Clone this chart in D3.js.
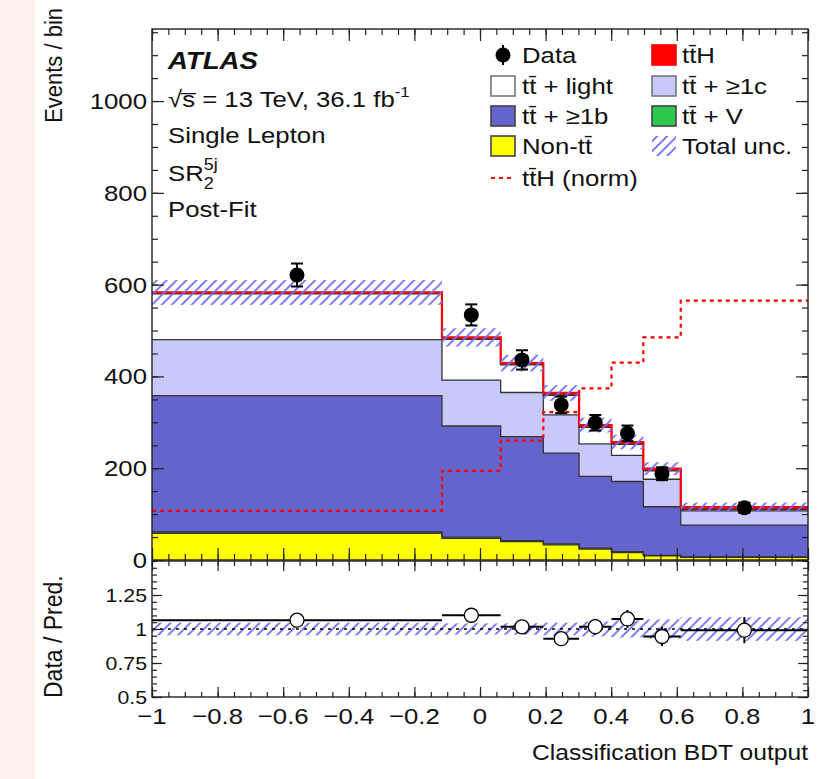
<!DOCTYPE html>
<html>
<head>
<meta charset="utf-8">
<script src="https://cdn.jsdelivr.net/npm/d3@7"></script>
<style>
  html, body { margin: 0; padding: 0; background: #ffffff; }
  #strip { position: absolute; left: 0; top: 0; width: 35px; height: 779px; background: #fdf1ee; }
  svg { position: absolute; left: 0; top: 0; }
  text { font-family: "Liberation Sans", Arial, Helvetica, sans-serif; fill: #111; }
</style>
</head>
<body>
<div id="strip"></div>
<svg id="chart" width="820" height="779"></svg>
<script>
// ---- Binned BDT distribution, post-fit, single lepton SR2 (5j) ----
const binEdges = [-1, -0.116, 0.063, 0.193, 0.302, 0.401, 0.498, 0.612, 1];

// stacked backgrounds / signal (events per bin), bottom to top
const nonTT   = [58, 47, 40, 33, 24, 16, 9, 6];
const ttV     = [3, 3, 2, 2, 2, 2, 1, 1];
const ttB     = [297, 242, 227, 198, 156, 153, 106, 69];
const ttC     = [122, 100, 96, 83, 71, 57, 60, 31];
const ttLight = [100, 89, 60, 43, 36, 24, 18, 3];
const ttH     = [3, 4, 4, 5, 5, 5, 5, 5];

// total uncertainty on the prediction (absolute, events)
const totalUnc = [27, 20, 18, 17, 16, 16, 14, 10];

// ttH shape normalised to total background
const ttHnorm = [107, 194, 260, 322, 374, 430, 485, 565];

// observed data
const dataCounts = [621, 534, 436, 338, 299, 276, 188, 114];
const dataErr    = [25, 23, 21, 18, 17, 17, 14, 11];

// axis tick values
const xTicks      = [-1, -0.8, -0.6, -0.4, -0.2, 0, 0.2, 0.4, 0.6, 0.8, 1];
const xTickLabels = ["\u22121", "\u22120.8", "\u22120.6", "\u22120.4", "\u22120.2", "0", "0.2", "0.4", "0.6", "0.8", "1"];
const yTicks      = [0, 200, 400, 600, 800, 1000];
const rTicks      = [0.5, 0.75, 1, 1.25];
const rTickLabels = ["0.5", "0.75", "1", "1.25"];

const TT = "tt\u0304";
const layerKeys   = ["nonTT", "ttV", "ttB", "ttC", "ttLight", "ttH"];
const layerColors = { nonTT: "#ffff00", ttV: "#2ec84f", ttB: "#6464cc", ttC: "#c8c8fa", ttLight: "#ffffff", ttH: "#ff0000" };

// ---- geometry ----
const L = 152, R = 808, mainTop = 29, ratTop = 561, ratBot = 697;
const SX = 1.12; // horizontal text stretch

const svg = d3.select("#chart");
const x  = d3.scaleLinear().domain([-1, 1]).range([L, R]);
const y  = d3.scaleLinear().domain([0, 1157]).range([560, mainTop]);
const yr = d3.scaleLinear().domain([0.5, 1.5]).range([ratBot, ratTop]);

// hatch pattern for uncertainty bands
const defs = svg.append("defs");
const pat = defs.append("pattern").attr("id", "hatch").attr("patternUnits", "userSpaceOnUse")
  .attr("width", 7).attr("height", 7).attr("patternTransform", "rotate(45)");
pat.append("line").attr("x1", 1).attr("y1", 0).attr("x2", 1).attr("y2", 7)
  .attr("stroke", "#6f6ff5").attr("stroke-opacity", 0.9).attr("stroke-width", 2);

defs.append("clipPath").attr("id", "clipMain").append("rect")
  .attr("x", L).attr("y", mainTop).attr("width", R - L).attr("height", 560 - mainTop);
defs.append("clipPath").attr("id", "clipRat").append("rect")
  .attr("x", L).attr("y", ratTop).attr("width", R - L).attr("height", ratBot - ratTop);

function addText(g, px, py, str, opt = {}) {
  const t = g.append("text")
    .attr("transform", `translate(${px},${py}) scale(${opt.sx || SX},1)`)
    .attr("font-size", opt.size || 23)
    .attr("text-anchor", opt.anchor || "start");
  if (opt.weight) t.attr("font-weight", opt.weight);
  if (opt.style) t.attr("font-style", opt.style);
  t.text(str);
  return t;
}

// ---- stacked histogram ----
const table = binEdges.slice(0, -1).map((e, i) => ({
  lo: e, hi: binEdges[i + 1],
  nonTT: nonTT[i], ttV: ttV[i], ttB: ttB[i], ttC: ttC[i], ttLight: ttLight[i], ttH: ttH[i]
}));
const stacked = d3.stack().keys(layerKeys)(table);

const stepArea = d3.area().x(d => d.x).y0(d => d.y0).y1(d => d.y1);
const stepLine = d3.line().x(d => d.x).y(d => d.y);

function stepPoints(layer) {
  const pts = [];
  layer.forEach(s => {
    pts.push({ x: x(s.data.lo), y0: y(s[0]), y1: y(s[1]) });
    pts.push({ x: x(s.data.hi), y0: y(s[0]), y1: y(s[1]) });
  });
  return pts;
}

const gMain = svg.append("g").attr("clip-path", "url(#clipMain)");

stacked.forEach(layer => {
  gMain.append("path").attr("d", stepArea(stepPoints(layer))).attr("fill", layerColors[layer.key]);
});
// outline along the top of each layer
stacked.forEach(layer => {
  const pts = stepPoints(layer).map(p => ({ x: p.x, y: p.y1 }));
  const isTop = layer.key === "ttH";
  gMain.append("path").attr("d", stepLine(pts)).attr("fill", "none")
    .attr("stroke", isTop ? "#ff0000" : "#333")
    .attr("stroke-width", isTop ? 2.2 : 1.3);
});

// total uncertainty hatch
const totals = table.map((d, i) => nonTT[i] + ttV[i] + ttB[i] + ttC[i] + ttLight[i] + ttH[i]);
table.forEach((d, i) => {
  gMain.append("rect").attr("x", x(d.lo)).attr("width", x(d.hi) - x(d.lo))
    .attr("y", y(totals[i] + totalUnc[i]))
    .attr("height", y(totals[i] - totalUnc[i]) - y(totals[i] + totalUnc[i]))
    .attr("fill", "url(#hatch)");
});

// ttH normalised (dashed red step)
const normPts = [];
table.forEach((d, i) => {
  normPts.push({ x: x(d.lo), y: y(ttHnorm[i]) });
  normPts.push({ x: x(d.hi), y: y(ttHnorm[i]) });
});
gMain.append("path").attr("d", stepLine(normPts)).attr("fill", "none")
  .attr("stroke", "#ff0000").attr("stroke-width", 2.2).attr("stroke-dasharray", "4,4");

// data points
const centers = table.map(d => (d.lo + d.hi) / 2);
const gData = svg.append("g");
centers.forEach((c, i) => {
  const cx = x(c);
  gData.append("line").attr("x1", cx).attr("x2", cx)
    .attr("y1", y(dataCounts[i] - dataErr[i])).attr("y2", y(dataCounts[i] + dataErr[i]))
    .attr("stroke", "#000").attr("stroke-width", 2);
  [dataCounts[i] - dataErr[i], dataCounts[i] + dataErr[i]].forEach(v => {
    gData.append("line").attr("x1", cx - 6).attr("x2", cx + 6)
      .attr("y1", y(v)).attr("y2", y(v)).attr("stroke", "#000").attr("stroke-width", 2);
  });
  gData.append("circle").attr("cx", cx).attr("cy", y(dataCounts[i])).attr("r", 7.5).attr("fill", "#000");
});

// ---- ratio panel ----
const gRat = svg.append("g").attr("clip-path", "url(#clipRat)");
table.forEach((d, i) => {
  const rel = totalUnc[i] / totals[i];
  gRat.append("rect").attr("x", x(d.lo)).attr("width", x(d.hi) - x(d.lo))
    .attr("y", yr(1 + rel)).attr("height", yr(1 - rel) - yr(1 + rel))
    .attr("fill", "url(#hatch)");
});
gRat.append("line").attr("x1", L).attr("x2", R).attr("y1", yr(1)).attr("y2", yr(1))
  .attr("stroke", "#000").attr("stroke-width", 1.5).attr("stroke-dasharray", "3,5");
table.forEach((d, i) => {
  const r = dataCounts[i] / totals[i];
  const e = dataErr[i] / totals[i];
  gRat.append("line").attr("x1", x(d.lo)).attr("x2", x(d.hi)).attr("y1", yr(r)).attr("y2", yr(r))
    .attr("stroke", "#000").attr("stroke-width", 2);
  gRat.append("line").attr("x1", x(centers[i])).attr("x2", x(centers[i]))
    .attr("y1", yr(r - e)).attr("y2", yr(r + e)).attr("stroke", "#000").attr("stroke-width", 2);
  gRat.append("circle").attr("cx", x(centers[i])).attr("cy", yr(r)).attr("r", 7)
    .attr("fill", "#fff").attr("stroke", "#000").attr("stroke-width", 1.3);
});

// ---- axes and frames ----
function ticksGroup(axis, transform) {
  const g = svg.append("g").attr("transform", transform).call(axis);
  g.select(".domain").remove();
  g.selectAll("line").attr("stroke", "#222").attr("stroke-width", 1.2);
  g.selectAll("text").remove();
  return g;
}
const xMinor = d3.range(-1, 1.0001, 0.05);
const yMinor = d3.range(0, 1151, 50);
const rMinor = d3.range(0.5, 1.5001, 0.05);

// main panel
ticksGroup(d3.axisBottom(x).tickValues(xTicks).tickSize(-12), `translate(0,560)`);
ticksGroup(d3.axisBottom(x).tickValues(xMinor).tickSize(-6), `translate(0,560)`);
ticksGroup(d3.axisTop(x).tickValues(xTicks).tickSize(-12), `translate(0,${mainTop})`);
ticksGroup(d3.axisTop(x).tickValues(xMinor).tickSize(-6), `translate(0,${mainTop})`);
ticksGroup(d3.axisLeft(y).tickValues(yTicks).tickSize(-12), `translate(${L},0)`);
ticksGroup(d3.axisLeft(y).tickValues(yMinor).tickSize(-6), `translate(${L},0)`);
ticksGroup(d3.axisRight(y).tickValues(yTicks).tickSize(-12), `translate(${R},0)`);
ticksGroup(d3.axisRight(y).tickValues(yMinor).tickSize(-6), `translate(${R},0)`);
// ratio panel
ticksGroup(d3.axisBottom(x).tickValues(xTicks).tickSize(-10), `translate(0,${ratBot})`);
ticksGroup(d3.axisBottom(x).tickValues(xMinor).tickSize(-5), `translate(0,${ratBot})`);
ticksGroup(d3.axisTop(x).tickValues(xTicks).tickSize(-10), `translate(0,${ratTop})`);
ticksGroup(d3.axisTop(x).tickValues(xMinor).tickSize(-5), `translate(0,${ratTop})`);
ticksGroup(d3.axisLeft(yr).tickValues(rTicks).tickSize(-10), `translate(${L},0)`);
ticksGroup(d3.axisLeft(yr).tickValues(rMinor).tickSize(-5), `translate(${L},0)`);
ticksGroup(d3.axisRight(yr).tickValues(rTicks).tickSize(-10), `translate(${R},0)`);
ticksGroup(d3.axisRight(yr).tickValues(rMinor).tickSize(-5), `translate(${R},0)`);

svg.append("rect").attr("x", L).attr("y", mainTop).attr("width", R - L).attr("height", 560 - mainTop)
  .attr("fill", "none").attr("stroke", "#222").attr("stroke-width", 1.4);
svg.append("rect").attr("x", L).attr("y", ratTop).attr("width", R - L).attr("height", ratBot - ratTop)
  .attr("fill", "none").attr("stroke", "#222").attr("stroke-width", 1.4);

// tick labels
const gLab = svg.append("g");
yTicks.forEach(v => addText(gLab, 147, y(v) + 8, String(v), { anchor: "end", size: 23 }));
rTicks.forEach((v, i) => addText(gLab, 147, yr(v) + 7, rTickLabels[i], { anchor: "end", size: 19 }));
xTicks.forEach((v, i) => addText(gLab, x(v), 724, xTickLabels[i], { anchor: "middle", size: 23 }));

// axis titles
addText(gLab, 808, 760, "Classification BDT output", { anchor: "end", size: 22 });
gLab.append("text").attr("transform", "translate(62,8) rotate(-90) scale(1,1.1)").attr("text-anchor", "end")
  .attr("font-size", 22).text("Events / bin");
gLab.append("text").attr("transform", "translate(62,698) rotate(-90) scale(1,1.1)").attr("text-anchor", "start")
  .attr("font-size", 23).text("Data / Pred.");

// ---- descriptive labels ----
const gInfo = svg.append("g");
addText(gInfo, 168, 69, "ATLAS", { weight: "bold", style: "italic", size: 23, sx: 1.2 });
const sLine = addText(gInfo, 168, 107, "\u221As\u0305 = 13 TeV, 36.1 fb");
sLine.append("tspan").attr("font-size", 15).attr("dy", -10).text("-1");
addText(gInfo, 168, 143, "Single Lepton");
const sr = addText(gInfo, 168, 181, "SR");
const srW = sr.node().getComputedTextLength();
sr.append("tspan").attr("font-size", 16).attr("dy", -11).text("5j");
sr.append("tspan").attr("font-size", 16).attr("x", srW).attr("dy", 19).text("2");
addText(gInfo, 168, 217, "Post-Fit");

// ---- legend ----
const gLeg = svg.append("g");
const rowsY = [55, 86, 116, 146, 178];
const col1 = 491, col2 = 652, boxW = 24, boxH = 20;
function legBox(cx, cy, fill, stroke) {
  gLeg.append("rect").attr("x", cx).attr("y", cy - boxH / 2).attr("width", boxW).attr("height", boxH)
    .attr("fill", fill).attr("stroke", stroke || "#444").attr("stroke-width", 1.6);
}
// Data
gLeg.append("line").attr("x1", col1 + 12).attr("x2", col1 + 12).attr("y1", rowsY[0] - 10).attr("y2", rowsY[0] + 10)
  .attr("stroke", "#000").attr("stroke-width", 2);
gLeg.append("circle").attr("cx", col1 + 12).attr("cy", rowsY[0]).attr("r", 7.5).attr("fill", "#000");
addText(gLeg, col1 + 31, rowsY[0] + 8, "Data");
// column 1
legBox(col1, rowsY[1], layerColors.ttLight, "#777");
addText(gLeg, col1 + 31, rowsY[1] + 8, TT + " + light");
legBox(col1, rowsY[2], layerColors.ttB);
addText(gLeg, col1 + 31, rowsY[2] + 8, TT + " + \u22651b");
legBox(col1, rowsY[3], layerColors.nonTT);
addText(gLeg, col1 + 31, rowsY[3] + 8, "Non-" + TT);
gLeg.append("line").attr("x1", col1).attr("x2", col1 + 23).attr("y1", rowsY[4]).attr("y2", rowsY[4])
  .attr("stroke", "#ff0000").attr("stroke-width", 2.2).attr("stroke-dasharray", "4,4");
addText(gLeg, col1 + 31, rowsY[4] + 8, TT + "H (norm)");
// column 2
legBox(col2, rowsY[0], layerColors.ttH, "#ff0000");
addText(gLeg, col2 + 30, rowsY[0] + 8, TT + "H");
legBox(col2, rowsY[1], layerColors.ttC, "#777");
addText(gLeg, col2 + 30, rowsY[1] + 8, TT + " + \u22651c");
legBox(col2, rowsY[2], layerColors.ttV);
addText(gLeg, col2 + 30, rowsY[2] + 8, TT + " + V");
gLeg.append("rect").attr("x", col2).attr("y", rowsY[3] - boxH / 2).attr("width", boxW).attr("height", boxH)
  .attr("fill", "url(#hatch)");
addText(gLeg, col2 + 30, rowsY[3] + 8, "Total unc.");
</script>
</body>
</html>
